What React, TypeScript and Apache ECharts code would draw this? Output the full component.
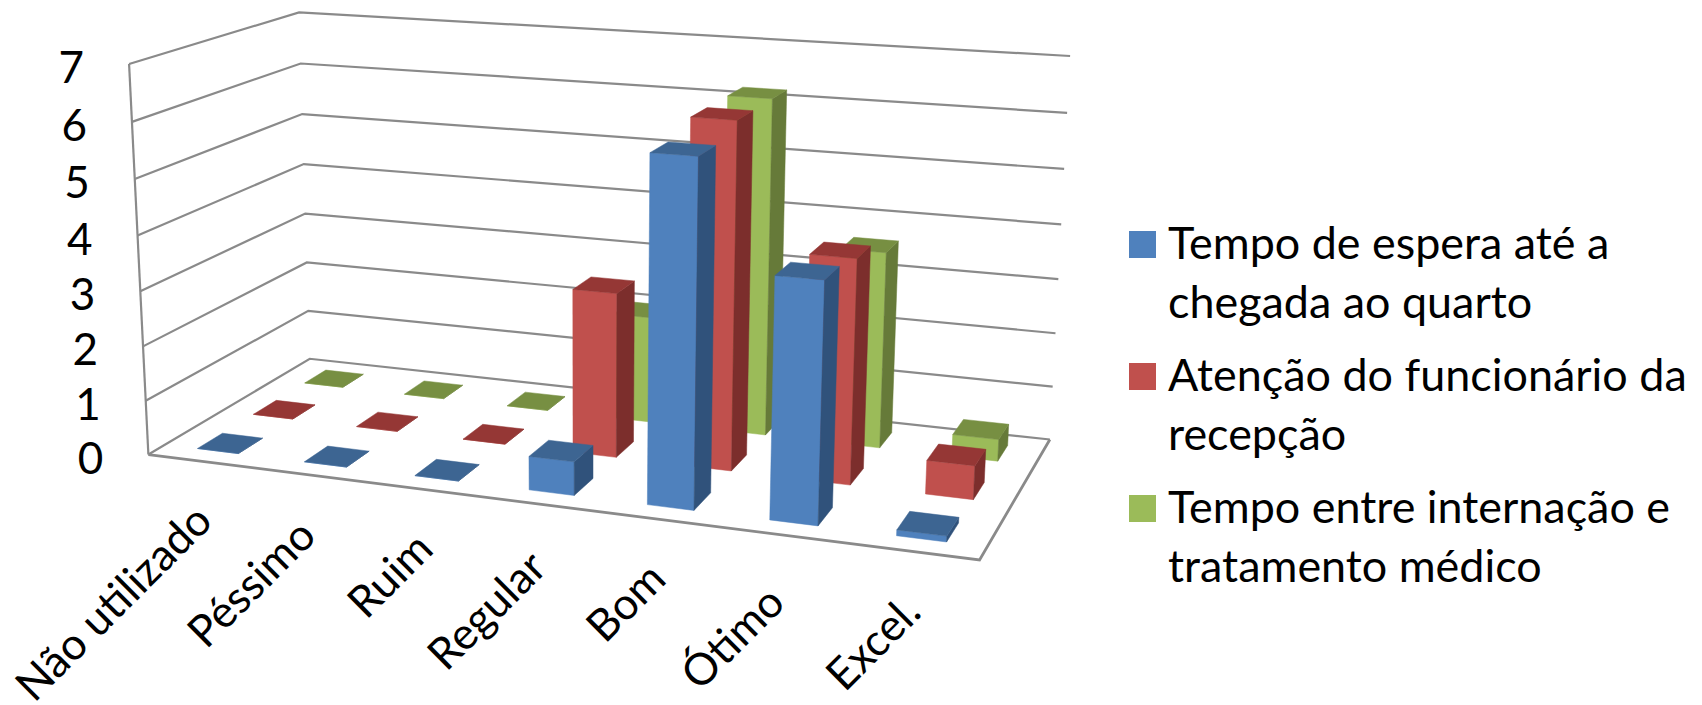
import React, { useEffect, useRef } from "react";
import * as echarts from "echarts";

const categories = ["Não utilizado", "Péssimo", "Ruim", "Regular", "Bom", "Ótimo", "Excel."];
const yTicks = [0, 1, 2, 3, 4, 5, 6, 7];
const yMax = 7;

const seriesNames = [
  "Tempo de espera até a\nchegada ao quarto",
  "Atenção do funcionário da\nrecepção",
  "Tempo entre internação e\ntratamento médico",
];
const esperaValues = [0, 0, 0, 0.6, 6, 4.15, 0.1];
const atencaoValues = [0, 0, 0, 3, 6.2, 4, 0.6];
const internacaoValues = [0, 0, 0, 2, 6.2, 3.6, 0.4];

const faceColors = ["#4F81BD", "#C0504D", "#9BBB59"];
const topColors = ["#3D6592", "#953735", "#778F42"];
const sideColors = ["#30527B", "#7C2E2C", "#667A39"];

const W = 1702;
const H = 705;
const FONT = "Lato";

// Frame anchors of the perspective box: [across, height, depth, screenX, screenY].
const anchors: number[][] = [
  [0, 7, 0, 128, 64], [0, 6, 0, 132, 122], [0, 5, 0, 135, 179], [0, 4, 0, 138, 235],
  [0, 3, 0, 141, 291], [0, 2, 0, 143, 346], [0, 1, 0, 146, 401], [0, 0, 0, 148, 455],
  [0, 7, 1, 299, 12.5], [0, 6, 1, 300, 63.5], [0, 5, 1, 303, 114], [0, 4, 1, 304, 164],
  [0, 3, 1, 305.5, 213.5], [0, 2, 1, 307, 263], [0, 1, 1, 308, 311], [0, 0, 1, 309, 358.5],
  [1, 7, 1, 1070, 56], [1, 6, 1, 1067, 113], [1, 5, 1, 1064.5, 169], [1, 4, 1, 1061, 224.5],
  [1, 3, 1, 1058.5, 279], [1, 0, 1, 1050, 439], [1, 0, 0, 979.3, 560.3],
];

// Least-squares camera matrix for the anchors, solved through the normal equations.
function solveCamera(): number[] {
  const n = 11;
  const A = Array.from({ length: n }, () => new Array(n + 1).fill(0));
  const add = (row: number[], rhs: number) => {
    for (let i = 0; i < n; i++) {
      for (let j = 0; j < n; j++) A[i][j] += row[i] * row[j];
      A[i][n] += row[i] * rhs;
    }
  };
  anchors.forEach(([u, h, d, sx, sy]) => {
    const v = h / yMax;
    const x = sx / 1000;
    const y = sy / 1000;
    add([u, v, d, 1, 0, 0, 0, 0, -x * u, -x * v, -x * d], x);
    add([0, 0, 0, 0, u, v, d, 1, -y * u, -y * v, -y * d], y);
  });
  for (let c = 0; c < n; c++) {
    let p = c;
    for (let r = c + 1; r < n; r++) if (Math.abs(A[r][c]) > Math.abs(A[p][c])) p = r;
    [A[c], A[p]] = [A[p], A[c]];
    for (let r = 0; r < n; r++) {
      if (r === c) continue;
      const f = A[r][c] / A[c][c];
      for (let k = c; k <= n; k++) A[r][k] -= f * A[c][k];
    }
  }
  return A.map((row, i) => row[n] / row[i]);
}

const cam = solveCamera();
function project(u: number, v: number, d: number): number[] {
  const w = cam[8] * u + cam[9] * v + cam[10] * d + 1;
  return [
    (1000 * (cam[0] * u + cam[1] * v + cam[2] * d + cam[3])) / w,
    (1000 * (cam[4] * u + cam[5] * v + cam[6] * d + cam[7])) / w,
  ];
}

// Turns a data pair into unit-box coordinates through the cartesian scales.
function toUnit(api: any, cat: number, value: number): number[] {
  const p = api.coord([cat, value]);
  return [p[0] / W, 1 - p[1] / H];
}

const BAR_W = 0.385;
const BAR_D = 0.145;

function poly(points: number[][], fill: string) {
  return {
    type: "polygon",
    shape: { points },
    style: { fill, stroke: fill, lineWidth: 0.5 },
  };
}

function barSeries(idx: number, values: number[]) {
  const rowCenter = (idx + 0.5) / 3;
  return {
    type: "custom",
    name: seriesNames[idx].replace("\n", " "),
    data: values.map((v, i) => [i, v]),
    encode: { x: 0, y: 1 },
    renderItem: (_: any, api: any) => {
      const [uc, top] = toUnit(api, api.value(0), api.value(1));
      const x0 = uc - BAR_W / 14;
      const x1 = uc + BAR_W / 14;
      const z0 = rowCenter - BAR_D / 2;
      const z1 = rowCenter + BAR_D / 2;
      return {
        type: "group",
        children: [
          poly([project(x0, 0, z0), project(x1, 0, z0), project(x1, top, z0), project(x0, top, z0)], faceColors[idx]),
          poly([project(x1, 0, z0), project(x1, 0, z1), project(x1, top, z1), project(x1, top, z0)], sideColors[idx]),
          poly([project(x0, top, z0), project(x1, top, z0), project(x1, top, z1), project(x0, top, z1)], topColors[idx]),
        ],
      };
    },
  };
}

const LINE = "#8A8A8A";

const frameSeries = {
  type: "custom",
  name: "frame",
  data: yTicks.map((t) => [0, t]),
  encode: { x: 0, y: 1 },
  renderItem: (_: any, api: any) => {
    const tick = api.value(1);
    const v = toUnit(api, 0, tick)[1];
    const a = project(0, v, 0);
    const b = project(0, v, 1);
    const c = project(1, v, 1);
    const children: any[] = [
      {
        type: "polyline",
        shape: { points: [a, b, c] },
        style: { fill: "none", stroke: LINE, lineWidth: 2.2 },
      },
      {
        type: "text",
        style: {
          text: String(tick),
          x: a[0] - 45,
          y: a[1] + 2,
          align: "right",
          verticalAlign: "middle",
          fill: "#000",
          font: `44px ${FONT}`,
        },
      },
    ];
    if (tick === 0) {
      children.push({
        type: "polyline",
        shape: { points: [a, project(1, 0, 0), c] },
        style: { fill: "none", stroke: LINE, lineWidth: 2.8 },
      });
      children.push({
        type: "line",
        shape: { x1: a[0], y1: a[1], x2: project(0, 1, 0)[0], y2: project(0, 1, 0)[1] },
        style: { stroke: LINE, lineWidth: 2.2 },
      });
    }
    return { type: "group", children };
  },
};

// Small per-label shifts along the slanted front edge.
const labelShiftX = [0, -5, 0, -3, -4, -10, -3];
const labelShiftY = [2, 3, 2, 6, 2, 10, 3];

const categoryLabelSeries = {
  type: "custom",
  name: "categories",
  data: categories.map((_, i) => [i, 0]),
  encode: { x: 0, y: 1 },
  renderItem: (_: any, api: any) => {
    const i = api.value(0);
    const [u] = toUnit(api, i, 0);
    const p = project(u, 0, 0);
    return {
      type: "text",
      x: p[0] + 1 + labelShiftX[i],
      y: p[1] + 48 + labelShiftY[i],
      rotation: Math.PI / 4,
      style: {
        text: categories[i],
        x: 0,
        y: 0,
        align: "right",
        verticalAlign: "middle",
        fill: "#000",
        font: `44px ${FONT}`,
      },
    };
  },
};

const LEGEND_X = 1129;
const legendRowTops = [231, 363, 495];

const legendGraphics = seriesNames.flatMap((name, i) => {
  const lines = name.split("\n");
  return [
    {
      type: "rect",
      shape: { x: LEGEND_X, y: legendRowTops[i], width: 27, height: 27 },
      style: { fill: faceColors[i] },
    },
    ...lines.map((line, k) => ({
      type: "text",
      x: LEGEND_X + 39,
      y: legendRowTops[i] + 11 + k * 58.5,
      scaleX: 1.02,
      style: {
        text: line,
        x: 0,
        y: 0,
        align: "left",
        verticalAlign: "middle",
        fill: "#000",
        font: `44px ${FONT}`,
      },
    })),
  ];
});

export default function App() {
  const ref = useRef<HTMLDivElement>(null);
  useEffect(() => {
    const chart = echarts.init(ref.current!, undefined, { renderer: "svg" });
    chart.setOption({
      animation: false,
      backgroundColor: "#fff",
      grid: { left: 0, right: 0, top: 0, bottom: 0 },
      xAxis: { type: "category", data: categories, show: false },
      yAxis: { type: "value", min: 0, max: yMax, interval: 1, show: false },
      graphic: legendGraphics,
      series: [
        frameSeries,
        categoryLabelSeries,
        barSeries(2, internacaoValues),
        barSeries(1, atencaoValues),
        barSeries(0, esperaValues),
      ],
    });
    return () => chart.dispose();
  }, []);
  return <div ref={ref} style={{ position: "absolute", left: 0, top: 0, width: W, height: H }} />;
}
